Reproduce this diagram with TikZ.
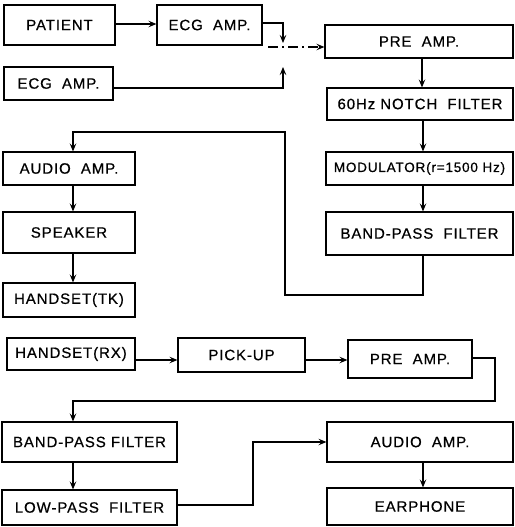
\documentclass[tikz,border=0pt]{standalone}
\usepackage{fontspec}
\setmainfont[LetterSpace=6,FakeBold=0.6]{Liberation Sans}
\usetikzlibrary{arrows.meta}
\begin{document}
\begin{tikzpicture}[x=1pt,y=-1pt,
  blk/.style={draw,line width=1.1pt,inner sep=0pt,font=\fontsize{15}{16}\selectfont},
  arr/.style={line width=1.1pt,-{Stealth[length=8pt,width=6.5pt,inset=3pt]}},
  ln/.style={line width=1.1pt}]
\useasboundingbox (0,0) rectangle (514,527);
\newcommand{\bx}[7]{\node[blk,minimum width=#4,minimum height=#5] (#1) at (#2,#3) {#6#7};}
% top part
\bx{patient}{59.5}{25}{111pt}{40pt}{PATIENT}{}
\bx{ecga}{209.5}{25}{105pt}{40pt}{ECG\ \ AMP.}{}
\bx{ecgb}{58.5}{83.5}{109pt}{33pt}{ECG\ \ AMP.}{}
\bx{prea}{419}{41.5}{188pt}{33pt}{PRE\ \ AMP.}{}
\bx{notch}{420}{104}{186pt}{32pt}{60Hz NOTCH\ \ FILTER}{}
\bx{mod}{419.5}{168.5}{187pt}{33pt}{\fontsize{13.5}{14}\selectfont MODULATOR(r=1500 Hz)}{}
\bx{bpfa}{419.5}{233.5}{187pt}{43pt}{BAND-PASS\ \ FILTER}{}
\bx{auda}{69}{168.5}{132pt}{33pt}{AUDIO\ \ AMP.}{}
\bx{spk}{69}{232.5}{132pt}{41pt}{SPEAKER}{}
\bx{tk}{69}{300}{132pt}{34pt}{HANDSET(TK)}{}
% bottom part
\bx{rx}{71}{354}{128pt}{32pt}{HANDSET(RX)}{}
\bx{pick}{241.5}{355}{127pt}{34pt}{PICK-UP}{}
\bx{preb}{410}{359}{124pt}{38pt}{PRE\ \ AMP.}{}
\bx{bpfb}{89.5}{442}{175pt}{40pt}{BAND-PASS FILTER}{}
\bx{lpf}{89.5}{507.5}{175pt}{35pt}{LOW-PASS\ \ FILTER}{}
\bx{audb}{420}{442}{186pt}{40pt}{AUDIO\ \ AMP.}{}
\bx{ear}{420}{506.5}{186pt}{37pt}{EARPHONE}{}
% junction coordinates
\coordinate (ja) at (283,43);
\coordinate (jb) at (283,67);
\coordinate (ds) at (268,47);
% connectors top
\draw[arr] (patient.east |- 0,24) -- (ecga.west |- 0,24);
\draw[arr] (ecga.east |- 0,23) -| (ja);
\draw[arr] (ecgb.east |- 0,88) -| (jb);
\draw[arr,dash pattern=on 10pt off 4pt on 2pt off 4pt] (ds) -- (prea.west |- ds);
\draw[arr] (prea.south -| 422,0) -- (notch.north -| 422,0);
\draw[arr] (notch.south -| 423,0) -- (mod.north -| 423,0);
\draw[arr] (mod.south -| 423,0) -- (bpfa.north -| 423,0);
\draw[arr] (bpfa.south -| 423,0) -- (423,295) -- (285,295) -- (285,132) -- (73,132) -- (auda.north -| 73,0);
\draw[arr] (auda.south -| 73,0) -- (spk.north -| 73,0);
\draw[arr] (spk.south -| 73,0) -- (tk.north -| 73,0);
% connectors bottom
\draw[arr] (rx.east |- 0,360) -- (pick.west |- 0,360);
\draw[arr] (pick.east |- 0,360) -- (preb.west |- 0,360);
\draw[arr] (preb.east |- 0,358) -- (495,358) -- (495,401) -- (73,401) -- (bpfb.north -| 73,0);
\draw[arr] (bpfb.south -| 73,0) -- (lpf.north -| 73,0);
\draw[arr] (lpf.east |- 0,505) -- (253,505) -- (253,442) -- (audb.west);
\draw[arr] (audb.south -| 423,0) -- (ear.north -| 423,0);
\end{tikzpicture}
\end{document}
